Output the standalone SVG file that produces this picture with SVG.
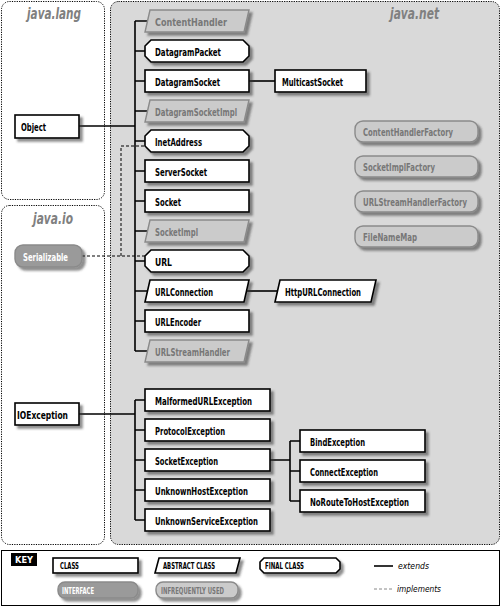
<svg xmlns="http://www.w3.org/2000/svg" width="502" height="607" viewBox="0 0 502 607">
<defs>
<filter id="sh" x="-10%" y="-30%" width="130%" height="180%">
<feGaussianBlur in="SourceAlpha" stdDeviation="1.3"/>
<feOffset dx="3" dy="3" result="b"/>
<feFlood flood-color="#333" flood-opacity="0.55"/>
<feComposite in2="b" operator="in"/>
<feMerge><feMergeNode/><feMergeNode in="SourceGraphic"/></feMerge>
</filter>
</defs>
<style>
.pkg{stroke:#000;stroke-width:1;stroke-dasharray:1.2 1.2}
.cls{fill:#fff;stroke:#000;stroke-width:1.6}
.inf{fill:#cbcbcb;stroke:#8a8a8a;stroke-width:1.4}
.ifc{fill:#9a9a9a;stroke:#8a8a8a;stroke-width:1.4}
.t{font-family:"DejaVu Sans Condensed","DejaVu Sans",sans-serif;font-weight:bold;font-size:11px;fill:#000}
.tg{font-family:"DejaVu Sans Condensed","DejaVu Sans",sans-serif;font-weight:bold;font-size:11px;fill:#777}
.tw{font-family:"DejaVu Sans Condensed","DejaVu Sans",sans-serif;font-weight:bold;font-size:11px;fill:#fff}
.k{font-size:8.5px}
.pl{font-family:"DejaVu Sans Condensed","DejaVu Sans",sans-serif;font-weight:bold;font-style:italic;font-size:15px;fill:#808080}
.it{font-family:"DejaVu Sans Condensed","DejaVu Sans",sans-serif;font-style:italic;font-size:9.5px;fill:#000}
.ln{fill:none;stroke:#000;stroke-width:1.6}
.ds{fill:none;stroke:#000;stroke-width:1;stroke-dasharray:3 2}
</style>

<g id="packages">
<rect id="pkg-java-lang" class="pkg" x="1.5" y="1.5" width="103" height="198" rx="8" fill="#fff"/>
<rect id="pkg-java-io" class="pkg" x="1.5" y="205.5" width="103" height="339" rx="8" fill="#fff"/>
<rect id="pkg-java-net" class="pkg" x="110.5" y="1.5" width="389" height="543" rx="8" fill="#d9d9d9"/>
<text class="pl" x="27" y="19" textLength="54" lengthAdjust="spacingAndGlyphs">java.lang</text>
<text class="pl" x="390" y="19" textLength="49" lengthAdjust="spacingAndGlyphs">java.net</text>
<text class="pl" x="33" y="224" textLength="40" lengthAdjust="spacingAndGlyphs">java.io</text>
</g>

<g id="connectors">
<path class="ln" d="M135,21 V351 M135,21 H147 M135,51 H145 M135,81 H145 M135,111 H147 M135,141 H145 M135,171 H145 M135,201 H145 M135,231 H147 M135,261 H145 M135,291 H147 M135,321 H145 M135,351 H147"/>
<path class="ln" d="M79,126 H135"/>
<path class="ln" d="M249,81 H275"/>
<path class="ln" d="M247,291 H277"/>
<path class="ds" d="M82,256 H145 M121,256 V146 H145"/>
<path class="ln" d="M79,414 H135 M135,400 V520 M135,400 H145 M135,430 H145 M135,460 H145 M135,490 H145 M135,520 H145"/>
<path class="ln" d="M270,460 H290 M290,441 V501 M290,441 H300 M290,471 H300 M290,501 H300"/>
</g>

<g id="n-ContentHandler"><path class="inf" filter="url(#sh)" d="M150,10 H249 L244,32 H145 Z"/><text class="tg" x="155" y="25.5" textLength="72" lengthAdjust="spacingAndGlyphs">ContentHandler</text></g>
<g id="n-DatagramPacket"><path class="cls" filter="url(#sh)" d="M151,40 H243 L249,46 V56 L243,62 H151 L145,56 V46 Z"/><text class="t" x="155" y="55.5" textLength="66" lengthAdjust="spacingAndGlyphs">DatagramPacket</text></g>
<g id="n-DatagramSocket"><rect class="cls" filter="url(#sh)" x="145" y="70" width="104" height="22"/><text class="t" x="155" y="85.5" textLength="65" lengthAdjust="spacingAndGlyphs">DatagramSocket</text></g>
<g id="n-DatagramSocketImpl"><path class="inf" filter="url(#sh)" d="M150,100 H249 L244,122 H145 Z"/><text class="tg" x="155" y="115.5" textLength="82" lengthAdjust="spacingAndGlyphs">DatagramSocketImpl</text></g>
<g id="n-InetAddress"><path class="cls" filter="url(#sh)" d="M151,130 H243 L249,136 V146 L243,152 H151 L145,146 V136 Z"/><text class="t" x="155" y="145.5" textLength="47" lengthAdjust="spacingAndGlyphs">InetAddress</text></g>
<g id="n-ServerSocket"><rect class="cls" filter="url(#sh)" x="145" y="160" width="104" height="22"/><text class="t" x="155" y="175.5" textLength="52" lengthAdjust="spacingAndGlyphs">ServerSocket</text></g>
<g id="n-Socket"><rect class="cls" filter="url(#sh)" x="145" y="190" width="104" height="22"/><text class="t" x="155" y="205.5" textLength="26" lengthAdjust="spacingAndGlyphs">Socket</text></g>
<g id="n-SocketImpl"><path class="inf" filter="url(#sh)" d="M150,220 H249 L244,242 H145 Z"/><text class="tg" x="155" y="235.5" textLength="43" lengthAdjust="spacingAndGlyphs">SocketImpl</text></g>
<g id="n-URL"><path class="cls" filter="url(#sh)" d="M151,250 H243 L249,256 V266 L243,272 H151 L145,266 V256 Z"/><text class="t" x="155" y="265.5" textLength="17" lengthAdjust="spacingAndGlyphs">URL</text></g>
<g id="n-URLConnection"><path class="cls" filter="url(#sh)" d="M150,280 H249 L244,302 H145 Z"/><text class="t" x="155" y="295.5" textLength="58" lengthAdjust="spacingAndGlyphs">URLConnection</text></g>
<g id="n-URLEncoder"><rect class="cls" filter="url(#sh)" x="145" y="310" width="104" height="22"/><text class="t" x="155" y="325.5" textLength="46" lengthAdjust="spacingAndGlyphs">URLEncoder</text></g>
<g id="n-URLStreamHandler"><path class="inf" filter="url(#sh)" d="M150,340 H249 L244,362 H145 Z"/><text class="tg" x="155" y="355.5" textLength="75" lengthAdjust="spacingAndGlyphs">URLStreamHandler</text></g>

<g id="n-Object"><rect class="cls" filter="url(#sh)" x="15" y="115" width="64" height="23"/><text class="t" x="21" y="130.5" textLength="25" lengthAdjust="spacingAndGlyphs">Object</text></g>
<g id="n-MulticastSocket"><rect class="cls" filter="url(#sh)" x="275" y="70" width="91" height="22"/><text class="t" x="282" y="85.5" textLength="61" lengthAdjust="spacingAndGlyphs">MulticastSocket</text></g>
<g id="n-HttpURLConnection"><path class="cls" filter="url(#sh)" d="M280,280 H376 L371,302 H275 Z"/><text class="t" x="285" y="295.5" textLength="76" lengthAdjust="spacingAndGlyphs">HttpURLConnection</text></g>

<g id="n-ContentHandlerFactory"><rect class="inf" filter="url(#sh)" x="355" y="121" width="123" height="21" rx="8"/><text class="tg" x="363" y="135.5" textLength="90" lengthAdjust="spacingAndGlyphs">ContentHandlerFactory</text></g>
<g id="n-SocketImplFactory"><rect class="inf" filter="url(#sh)" x="355" y="156" width="123" height="21" rx="8"/><text class="tg" x="363" y="170.5" textLength="72" lengthAdjust="spacingAndGlyphs">SocketImplFactory</text></g>
<g id="n-URLStreamHandlerFactory"><rect class="inf" filter="url(#sh)" x="355" y="191" width="123" height="21" rx="8"/><text class="tg" x="363" y="205.5" textLength="104" lengthAdjust="spacingAndGlyphs">URLStreamHandlerFactory</text></g>
<g id="n-FileNameMap"><rect class="inf" filter="url(#sh)" x="355" y="226" width="123" height="21" rx="8"/><text class="tg" x="363" y="240.5" textLength="54" lengthAdjust="spacingAndGlyphs">FileNameMap</text></g>

<g id="n-Serializable"><rect class="ifc" filter="url(#sh)" x="15" y="245" width="67" height="22" rx="8"/><text class="tw" x="23" y="260.5" textLength="45" lengthAdjust="spacingAndGlyphs">Serializable</text></g>

<g id="n-IOException"><rect class="cls" filter="url(#sh)" x="15" y="403" width="64" height="22"/><text class="t" x="17" y="418.5" textLength="51" lengthAdjust="spacingAndGlyphs">IOException</text></g>
<g id="n-MalformedURLException"><rect class="cls" filter="url(#sh)" x="145" y="389" width="125" height="22"/><text class="t" x="155" y="404.5" textLength="97" lengthAdjust="spacingAndGlyphs">MalformedURLException</text></g>
<g id="n-ProtocolException"><rect class="cls" filter="url(#sh)" x="145" y="419" width="125" height="22"/><text class="t" x="155" y="434.5" textLength="70" lengthAdjust="spacingAndGlyphs">ProtocolException</text></g>
<g id="n-SocketException"><rect class="cls" filter="url(#sh)" x="145" y="449" width="125" height="22"/><text class="t" x="155" y="464.5" textLength="63" lengthAdjust="spacingAndGlyphs">SocketException</text></g>
<g id="n-UnknownHostException"><rect class="cls" filter="url(#sh)" x="145" y="479" width="125" height="22"/><text class="t" x="155" y="494.5" textLength="93" lengthAdjust="spacingAndGlyphs">UnknownHostException</text></g>
<g id="n-UnknownServiceException"><rect class="cls" filter="url(#sh)" x="145" y="509" width="125" height="22"/><text class="t" x="155" y="524.5" textLength="103" lengthAdjust="spacingAndGlyphs">UnknownServiceException</text></g>
<g id="n-BindException"><rect class="cls" filter="url(#sh)" x="300" y="430" width="125" height="22"/><text class="t" x="310" y="445.5" textLength="55" lengthAdjust="spacingAndGlyphs">BindException</text></g>
<g id="n-ConnectException"><rect class="cls" filter="url(#sh)" x="300" y="460" width="125" height="22"/><text class="t" x="310" y="475.5" textLength="68" lengthAdjust="spacingAndGlyphs">ConnectException</text></g>
<g id="n-NoRouteToHostException"><rect class="cls" filter="url(#sh)" x="300" y="490" width="125" height="22"/><text class="t" x="310" y="505.5" textLength="99" lengthAdjust="spacingAndGlyphs">NoRouteToHostException</text></g>

<g id="key">
<rect x="1.5" y="550.5" width="498" height="55" fill="#fff" stroke="#000" stroke-width="1"/>
<rect x="11" y="553" width="26" height="13" fill="#000"/>
<text class="tw k" x="15" y="563" textLength="18" lengthAdjust="spacingAndGlyphs">KEY</text>
<rect class="cls" filter="url(#sh)" x="53" y="558" width="85" height="15"/>
<text class="t k" x="60" y="569" textLength="19" lengthAdjust="spacingAndGlyphs">CLASS</text>
<path class="cls" filter="url(#sh)" d="M159,558 H240 L236,573 H155 Z"/>
<text class="t k" x="163" y="569" textLength="52" lengthAdjust="spacingAndGlyphs">ABSTRACT CLASS</text>
<path class="cls" filter="url(#sh)" d="M264,558 H336 L340,562 V569 L336,573 H264 L260,569 V562 Z"/>
<text class="t k" x="265" y="569" textLength="39" lengthAdjust="spacingAndGlyphs">FINAL CLASS</text>
<rect class="ifc" filter="url(#sh)" x="58" y="582" width="80" height="16" rx="7"/>
<text class="tw k" x="62" y="593.5" textLength="32" lengthAdjust="spacingAndGlyphs" fill="#e8e8e8">INTERFACE</text>
<rect class="inf" filter="url(#sh)" x="156" y="582" width="82" height="16" rx="7" fill="#e0e0e0"/>
<text class="tg k" x="161" y="593.5" textLength="63" lengthAdjust="spacingAndGlyphs">INFREQUENTLY USED</text>
<path d="M374,566 H393" stroke="#000" stroke-width="1.6"/>
<text class="it" x="398" y="569" textLength="31" lengthAdjust="spacingAndGlyphs">extends</text>
<path d="M374,589 H393" stroke="#888" stroke-width="1" stroke-dasharray="3 2"/>
<text class="it" x="397" y="592" textLength="44" lengthAdjust="spacingAndGlyphs">implements</text>
</g>
</svg>
